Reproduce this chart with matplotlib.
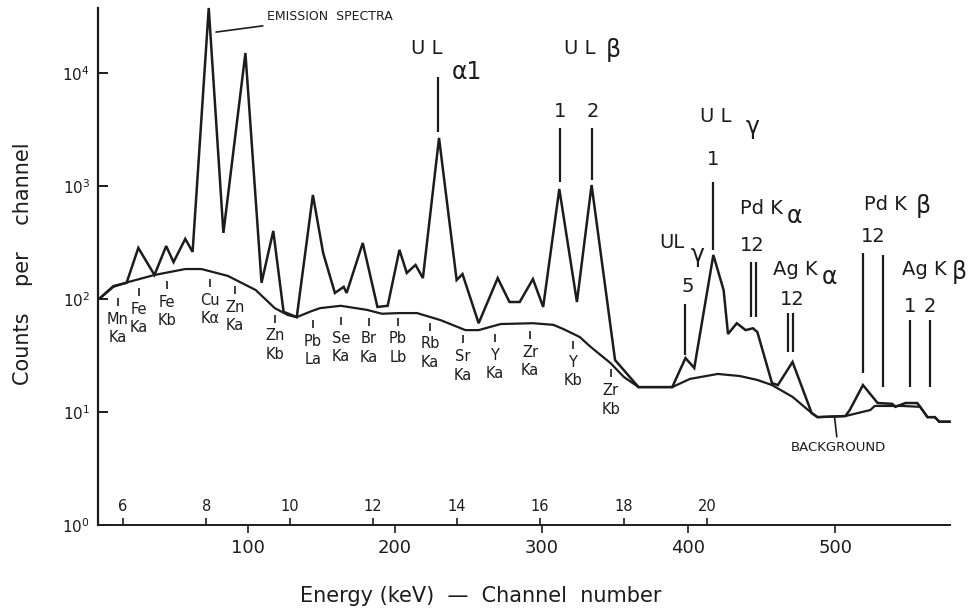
import numpy as np
import matplotlib
matplotlib.use("Agg")
import matplotlib.pyplot as plt
from matplotlib import ticker

# spectrum: channel number, counts per channel
spec_ch = [-1, 8, 17, 25, 36, 44, 49, 57, 62, 73, 83, 98, 109, 117, 124, 133, 144, 151,
           159, 165, 167, 178, 188, 195, 203, 208, 214, 219, 230, 242, 246, 257, 270, 278,
           285, 294, 301, 312, 324, 334, 350, 366, 389, 398, 404, 417, 424, 427, 433, 439,
           444, 447, 457, 461, 471, 484, 488, 507, 510, 519, 529, 539, 541, 548, 556, 558,
           563, 568, 571, 578]
spec_counts = [102, 130, 139, 283, 163, 294, 212, 340, 261, 37600, 384, 15000, 139, 400,
               77, 69, 832, 255, 113, 128, 113, 313, 85, 87, 272, 170, 200, 153, 2660, 147,
               166, 61, 153, 94, 94, 150, 85, 940, 94, 1020, 28.8, 16.6, 16.6, 30, 24.5,
               245, 120, 49, 61, 53, 55, 51, 18, 17.3, 27.7, 9.8, 9.0, 9.2, 10.4, 17.3,
               12.0, 11.8, 11.1, 12.0, 12.0, 11.1, 9.0, 9.0, 8.2, 8.2]

# background curve
bkg_ch = [-1, 8, 18, 36, 57, 68, 86, 105, 118, 127, 133, 143, 149, 163, 181, 191, 203,
          215, 231, 248, 257, 272, 294, 308, 315, 326, 333, 347, 356, 366, 389, 401, 420,
          435, 447, 457, 471, 484, 488, 507, 524, 527, 546, 558, 563, 568, 571, 578]
bkg_counts = [102, 128, 141, 163, 184, 184, 160, 120, 83, 72, 69, 78, 83, 87, 80, 74, 75,
              75, 65, 53, 53, 60, 61, 59, 54, 46, 38, 27, 20.4, 16.6, 16.6, 19.6, 21.7,
              20.8, 19.2, 17.3, 13.6, 9.8, 9.0, 9.2, 10.4, 11.3, 11.3, 11.1, 9.0, 9.0,
              8.2, 8.2]

# element lines marked under the background
elem_names = ["Mn", "Fe", "Fe", "Cu", "Zn", "Zn", "Pb", "Se", "Br", "Pb", "Rb", "Sr",
              "Y", "Zr", "Y", "Zr"]
elem_lines = ["Ka", "Ka", "Kb", "K\u03b1", "Ka", "Kb", "La", "Ka", "Ka", "Lb", "Ka", "Ka",
              "Ka", "Ka", "Kb", "Kb"]
elem_ch = [11, 25.5, 44.6, 73.9, 90.9, 118, 144, 163, 182, 202, 224, 246, 268, 292, 321, 347]
elem_counts = [94, 115, 133, 139, 120, 67, 60, 64, 63, 63, 57, 44, 45, 48, 39, 22]

# vertical marker lines for U L, Pd K and Ag K peaks
marker_ch = [229.3, 312.5, 334.3, 416.8, 397.7, 442.7, 446.1, 467.9, 471.3, 519.0,
             532.7, 551.1, 564.7]
marker_top = [9220, 3260, 3260, 1085, 90, 213, 213, 75, 75, 255, 245, 65, 65]
marker_bottom = [3000, 1085, 1130, 272, 32, 69, 69, 34, 34, 22.1, 16.6, 16.6, 16.6]

channel_ticks = [100, 200, 300, 400, 500]
energy_ticks = [6, 8, 10, 12, 14, 16, 18, 20]
count_ticks = [1, 10, 100, 1000, 10000]

# energy scale: 6 keV at channel 14.4, 28.45 channels per keV
def ch2kev(c):
    return 6 + (np.asarray(c) - 14.4) / 28.45

def kev2ch(e):
    return 14.4 + 28.45 * (np.asarray(e) - 6)

ink = "#1c1c1c"
plt.rcParams['font.family'] = ['DejaVu Sans']

fig = plt.figure(figsize=(9.75, 6.13), dpi=100)
ax = fig.add_axes([0.1008, 0.1436, 0.8735, 0.8434])

ax.plot(spec_ch, spec_counts, color=ink, lw=1.8, solid_joinstyle='miter', clip_on=False)
ax.plot(bkg_ch, bkg_counts, color=ink, lw=1.6, clip_on=False)
ax.vlines(marker_ch, marker_bottom, marker_top, color=ink, lw=1.6)

# little element ticks with their two-line labels
ax.scatter(elem_ch, elem_counts, marker='|', s=30, color=ink, linewidths=1.2)
for name, line, c, n in zip(elem_names, elem_lines, elem_ch, elem_counts):
    ax.annotate(name + "\n" + line, xy=(c, n), xytext=(0, -7), textcoords='offset points',
                ha='center', va='top', fontsize=10.5, linespacing=1.3, color=ink)

ax.set_yscale('log')
ax.set_xlim(-2.3, 578.3)
ax.set_ylim(1, 10 ** 4.575)

ax.spines['top'].set_visible(False)
ax.spines['right'].set_visible(False)
ax.spines['left'].set_linewidth(1.6)
ax.spines['bottom'].set_linewidth(1.4)
for s in ['left', 'bottom']:
    ax.spines[s].set_color(ink)

ax.yaxis.set_major_locator(ticker.FixedLocator(count_ticks))
ax.yaxis.set_minor_locator(ticker.NullLocator())
ax.tick_params(axis='y', direction='in', length=7, width=1.4, pad=6, labelsize=11,
               colors=ink)
ax.set_xticks(channel_ticks)
ax.tick_params(axis='x', direction='out', length=6, width=1.2, pad=4, labelsize=13,
               colors=ink)

# energy scale drawn along the same base line, ticks and labels upwards
sec = ax.secondary_xaxis(0.0, functions=(ch2kev, kev2ch))
sec.set_alignment('top')
sec.set_xticks(energy_ticks)
sec.tick_params(direction='out', length=5, width=1.2, pad=3, labelsize=10.5, colors=ink)
sec.spines['top'].set_visible(False)

ax.set_ylabel("Counts    per    channel", fontsize=15, color=ink)
ax.yaxis.label.set_verticalalignment('center')
ax.yaxis.set_label_coords(-0.088, 0.505)
ax.set_xlabel("Energy (keV)  \u2014  Channel  number", fontsize=15, color=ink)
ax.xaxis.label.set_verticalalignment('center')
ax.xaxis.set_label_coords(0.449, -0.137)

big = 14
greek = 17
ax.text(221.9, 16600, "U L", fontsize=big, ha='center', va='center', color=ink)
ax.text(249, 10200, "\u03b11", fontsize=greek, ha='center', va='center', color=ink)
ax.text(326, 16600, "U L", fontsize=big, ha='center', va='center', color=ink)
ax.text(348.6, 16000, "\u03b2", fontsize=greek, ha='center', va='center', color=ink)
ax.text(312.5, 4520, "1", fontsize=big, ha='center', va='center', color=ink)
ax.text(334.9, 4520, "2", fontsize=big, ha='center', va='center', color=ink)
ax.text(418.9, 4080, "U L", fontsize=big, ha='center', va='center', color=ink)
ax.text(444, 3330, "\u03b3", fontsize=greek, ha='center', va='center', color=ink)
ax.text(416.8, 1700, "1", fontsize=big, ha='center', va='center', color=ink)
ax.text(450, 638, "Pd K", fontsize=big, ha='center', va='center', color=ink)
ax.text(472.6, 543, "\u03b1", fontsize=greek, ha='center', va='center', color=ink)
ax.text(443.4, 300, "12", fontsize=big, ha='center', va='center', color=ink)
ax.text(388.8, 319, "UL", fontsize=big, ha='center', va='center', color=ink)
ax.text(406.5, 245, "\u03b3", fontsize=greek, ha='center', va='center', color=ink)
ax.text(399.7, 128, "5", fontsize=big, ha='center', va='center', color=ink)
ax.text(472.6, 181, "Ag K", fontsize=big, ha='center', va='center', color=ink)
ax.text(496.4, 157, "\u03b1", fontsize=greek, ha='center', va='center', color=ink)
ax.text(470.6, 98, "12", fontsize=big, ha='center', va='center', color=ink)
ax.text(534.6, 679, "Pd K", fontsize=big, ha='center', va='center', color=ink)
ax.text(560, 665, "\u03b2", fontsize=greek, ha='center', va='center', color=ink)
ax.text(525.8, 354, "12", fontsize=big, ha='center', va='center', color=ink)
ax.text(561, 181, "Ag K", fontsize=big, ha='center', va='center', color=ink)
ax.text(585, 173, "\u03b2", fontsize=greek, ha='center', va='center', color=ink)
ax.text(551, 85, "1", fontsize=big, ha='center', va='center', color=ink)
ax.text(564.7, 85, "2", fontsize=big, ha='center', va='center', color=ink)

ax.annotate("EMISSION  SPECTRA", xy=(78, 23000), xytext=(112.7, 31300),
            ha='left', va='center', fontsize=9, color=ink,
            arrowprops=dict(arrowstyle='-', lw=1.2, color=ink, shrinkA=1, shrinkB=0))
ax.annotate("BACKGROUND", xy=(499.7, 8.85), xytext=(502, 5.54),
            ha='center', va='top', fontsize=9.5, color=ink,
            arrowprops=dict(arrowstyle='-', lw=1.2, color=ink, shrinkA=1, shrinkB=0))

fig.savefig("out.png", dpi=100, facecolor='white')
